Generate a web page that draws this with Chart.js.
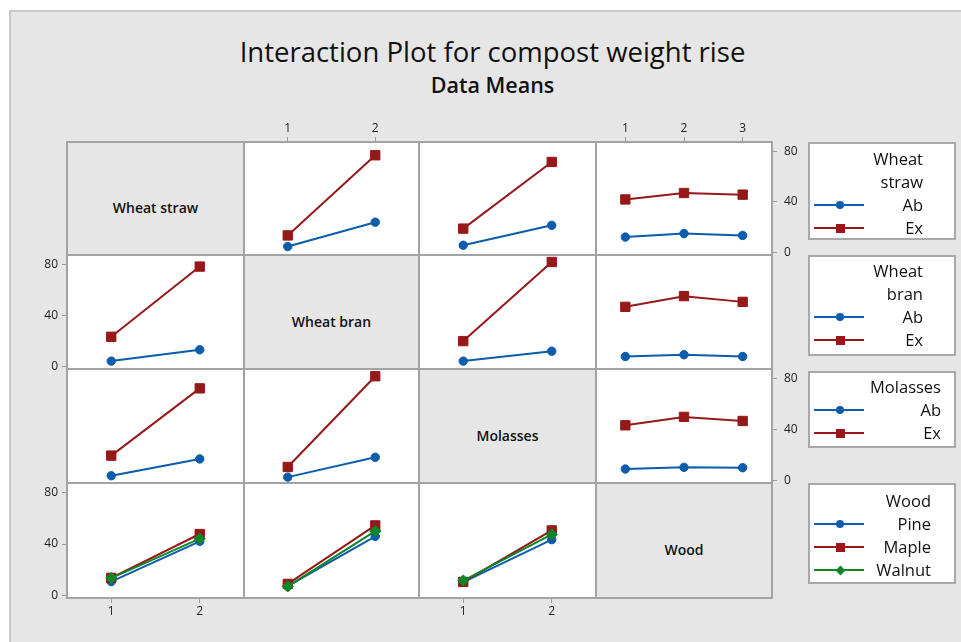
<!DOCTYPE html>
<html><head><meta charset="utf-8">
<script src="https://cdn.jsdelivr.net/npm/chart.js@4.4.0/dist/chart.umd.min.js"></script>
<style>
html,body{margin:0;padding:0;background:#fff;width:961px;height:642px;overflow:hidden;font-family:'Open Sans',sans-serif;color:#111;}
#frame{position:absolute;left:9px;top:10px;width:970px;height:650px;background:#e6e6e6;border-left:2px solid #c9c9c9;border-top:2px solid #c9c9c9;}
.abs{position:absolute;}
.gl{position:absolute;background:#a3a3a3;z-index:5;}
.lbox{position:absolute;background:#fff;border:2px solid #a9a9a9;box-sizing:border-box;z-index:3;}
.ltxt{position:absolute;width:200px;text-align:right;font-size:16.5px;line-height:20px;white-space:nowrap;color:#111;z-index:4;}
.diag{position:absolute;background:#e6e6e6;display:flex;align-items:center;justify-content:center;font-size:14px;font-weight:600;color:#111;}
</style></head><body>
<div id="frame"></div>
<div class="abs" style="left:0;width:985px;top:35px;text-align:center;font-size:27.5px;line-height:34px;color:#111;">Interaction Plot for compost weight rise</div>
<div class="abs" style="left:0;width:985px;top:71px;text-align:center;font-size:21.5px;font-weight:600;line-height:28px;color:#111;">Data Means</div>
<div id="root"></div>
<script>
// ---------- data ----------
const factorNames = ['Wheat straw', 'Wheat bran', 'Molasses', 'Wood'];
const legendTitles = [['Wheat', 'straw'], ['Wheat', 'bran'], ['Molasses'], ['Wood']];
const levels2 = ['Ab', 'Ex'];
const woodLevels = ['Pine', 'Maple', 'Walnut'];
const xTicks2 = ['1', '2'];
const xTicks3 = ['1', '2', '3'];
const yTicks = [0, 40, 80];

// rows = line factor, columns = x-axis factor; each inner array = one level of row factor
const strawVsBran     = [[4.7, 24.0], [13.5, 77.0]];
const strawVsMolasses = [[5.7, 21.5], [18.9, 71.7]];
const strawVsWood     = [[12.2, 15.0, 13.5], [42.0, 47.1, 45.8]];
const branVsStraw     = [[4.2, 13.1], [23.3, 78.4]];
const branVsMolasses  = [[4.2, 12.0], [19.9, 82.0]];
const branVsWood      = [[7.8, 9.2, 7.8], [46.8, 55.2, 50.7]];
const molVsStraw      = [[3.7, 16.9], [19.5, 72.3]];
const molVsBran       = [[2.6, 18.2], [10.6, 81.8]];
const molVsWood       = [[9.0, 10.3, 10.0], [43.3, 49.9, 46.7]];
const woodVsStraw     = [[10.8, 42.1], [13.7, 47.8], [13.5, 44.2]];
const woodVsBran      = [[7.2, 46.0], [9.0, 54.5], [7.0, 50.1]];
const woodVsMolasses  = [[10.3, 43.4], [10.5, 50.6], [11.6, 47.5]];

// ---------- layout / style ----------
const colEdges = [67, 244, 419, 596, 772];
const rowEdges = [142, 255, 369, 483, 598];
const colors = ['#0b5cab', '#961818', '#0a872a'];
const pStyles = ['circle', 'rect', 'rectRot'];
const pRadius = [4.2, 6.6, 5.6];
const FONT = 'Open Sans';
const AXW = 42, AXH = 28, EXTRA = 9;

const cells = [
  {r:0,c:1,d:strawVsBran, x:'top', y:null},
  {r:0,c:2,d:strawVsMolasses, x:null, y:null},
  {r:0,c:3,d:strawVsWood, x:'top', y:'right'},
  {r:1,c:0,d:branVsStraw, x:null, y:'left'},
  {r:1,c:2,d:branVsMolasses, x:null, y:null},
  {r:1,c:3,d:branVsWood, x:null, y:null},
  {r:2,c:0,d:molVsStraw, x:null, y:null},
  {r:2,c:1,d:molVsBran, x:null, y:null},
  {r:2,c:3,d:molVsWood, x:null, y:'right'},
  {r:3,c:0,d:woodVsStraw, x:'bottom', y:'left'},
  {r:3,c:1,d:woodVsBran, x:null, y:null},
  {r:3,c:2,d:woodVsMolasses, x:'bottom', y:null},
];

const root = document.getElementById('root');
function add(html){ const t=document.createElement('div'); t.innerHTML=html; const e=t.firstChild; root.appendChild(e); return e; }

// cell backgrounds
for (let r=0;r<4;r++) for (let c=0;c<4;c++) {
  const L=colEdges[c], T=rowEdges[r], W=colEdges[c+1]-L, H=rowEdges[r+1]-T;
  if (r===c) {
    add(`<div class="diag" style="left:${L}px;top:${T}px;width:${W}px;height:${H}px;"><span style="position:relative;top:9px;">${factorNames[r]}</span></div>`);
  } else {
    add(`<div class="abs" style="left:${L}px;top:${T}px;width:${W}px;height:${H}px;background:#fff;"></div>`);
  }
}
// grid lines
colEdges.forEach(x=>add(`<div class="gl" style="left:${x-1}px;top:${rowEdges[0]-1}px;width:2px;height:${rowEdges[4]-rowEdges[0]+2}px;"></div>`));
rowEdges.forEach(y=>add(`<div class="gl" style="left:${colEdges[0]-1}px;top:${y-1}px;width:${colEdges[4]-colEdges[0]+2}px;height:2px;"></div>`));

// charts
cells.forEach(cell=>{
  const L=colEdges[cell.c], T=rowEdges[cell.r], W=colEdges[cell.c+1]-L, H=rowEdges[cell.r+1]-T;
  const showX = cell.x!==null, showY = cell.y!==null;
  const padL = cell.y==='left'?AXW:0, padR = cell.y==='right'?AXW:0;
  const padT = cell.x==='top'?AXH:0;
  const padB = cell.x==='bottom'?AXH:(showY?EXTRA:0);
  const layoutPadB = (showY && cell.x!=='bottom') ? EXTRA : 0;
  const cv = document.createElement('canvas');
  cv.width = W+padL+padR; cv.height = H+padT+padB;
  cv.style.cssText = `position:absolute;left:${L-padL}px;top:${T-padT}px;width:${cv.width}px;height:${cv.height}px;z-index:2;`;
  root.appendChild(cv);
  const labels = cell.c===3 ? xTicks3 : xTicks2;
  const n = cell.d.length;
  const datasets = cell.d.map((vals,i)=>({
    data: vals,
    borderColor: colors[i], backgroundColor: colors[i],
    pointBackgroundColor: colors[i], pointBorderColor: colors[i],
    borderWidth: 2, pointStyle: pStyles[i], pointRadius: pRadius[i], pointBorderWidth: 1,
    tension: 0, clip: false, order: n-1-i
  }));
  new Chart(cv, {
    type: 'line',
    data: { labels, datasets },
    options: {
      responsive: false, animation: false, events: [],
      layout: { padding: {top:0,left:0,right:0,bottom:layoutPadB}, autoPadding: false },
      plugins: { legend: {display:false}, tooltip: {enabled:false}, title:{display:false} },
      scales: {
        x: {
          type: 'category', offset: true, display: showX, position: cell.x||'bottom',
          ticks: { color:'#222', font:{family:FONT,size:12}, padding:1, maxRotation:0, autoSkip:false },
          grid: { offset:false, drawOnChartArea:false, drawTicks:true, tickLength:5, color:'#9a9a9a', lineWidth:1 },
          border: { display:false },
          afterFit: s => { s.height = showX ? AXH : 0; s.paddingLeft = 0; s.paddingRight = 0; }
        },
        y: {
          type: 'linear', min: -2, max: 87.5, display: showY, position: cell.y||'left',
          afterBuildTicks: s => { s.ticks = yTicks.map(v=>({value:v})); },
          ticks: { color:'#222', font:{family:FONT,size:12}, padding: cell.y==='right' ? 7 : 4 },
          grid: { drawOnChartArea:false, drawTicks:true, tickLength:5, color:'#9a9a9a', lineWidth:1 },
          border: { display:false },
          afterFit: s => { s.width = showY ? AXW : 0; s.paddingTop = 0; s.paddingBottom = 0; }
        }
      }
    }
  });
});

// legends
const boxes = [
  {top:142,bottom:240,right:923,first:159},
  {top:255,bottom:356,right:923,first:271},
  {top:371,bottom:448,right:941,first:387},
  {top:483,bottom:584,right:931,first:501},
];
const STEP = 23;
boxes.forEach((b,k)=>{
  add(`<div class="lbox" style="left:808px;top:${b.top}px;width:148px;height:${b.bottom-b.top}px;"></div>`);
  let y = b.first;
  legendTitles[k].forEach(t=>{
    add(`<div class="ltxt" style="left:${b.right-200}px;top:${y-10}px;">${t}</div>`); y+=STEP;
  });
  const lv = k===3 ? woodLevels : levels2;
  lv.forEach((t,i)=>{
    add(`<div class="ltxt" style="left:${b.right-200}px;top:${y-10}px;">${t}</div>`);
    add(`<div class="abs" style="left:814px;top:${y-1}px;width:50px;height:2px;background:${colors[i]};z-index:4;"></div>`);
    let m;
    if (i===0) m = `left:${840-4}px;top:${y-4}px;width:8px;height:8px;border-radius:50%;`;
    else if (i===1) m = `left:${840-4.5}px;top:${y-4.5}px;width:9px;height:9px;`;
    else m = `left:${840-3.5}px;top:${y-3.5}px;width:7px;height:7px;transform:rotate(45deg);`;
    add(`<div class="abs" style="${m}background:${colors[i]};z-index:4;"></div>`);
    y+=STEP;
  });
});
</script>
</body></html>
